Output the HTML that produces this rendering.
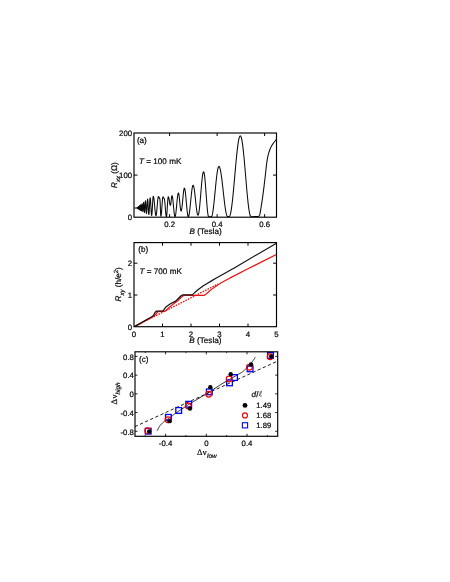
<!DOCTYPE html>
<html><head><meta charset="utf-8"><title>Figure</title>
<style>html,body{margin:0;padding:0;background:#fff;}body{width:450px;height:582px;overflow:hidden;font-family:"Liberation Sans",sans-serif;}svg{display:block;text-rendering:geometricPrecision;}</style>
</head><body>
<svg width="450" height="582" viewBox="0 0 450 582" font-family="Liberation Sans, sans-serif" fill="#0a0a0a">
<style>text{stroke:#0a0a0a;stroke-width:0.22px;}</style>
<rect width="450" height="582" fill="#fff"/>
<clipPath id="ca"><rect x="134" y="133" width="142.5" height="84.2"/></clipPath>
<path d="M136.6 208 L141 204.6 L141 210.9Z" fill="#111" clip-path="url(#ca)"/>
<path d="M134.3 208 L136.6 208 L136.6 208 L136.62 208 L136.64 208 L136.66 207.99 L136.68 207.98 L136.7 207.97 L136.72 207.95 L136.74 207.93 L136.76 207.91 L136.78 207.89 L136.8 207.87 L136.82 207.85 L136.84 207.83 L136.86 207.82 L136.88 207.81 L136.9 207.8 L136.92 207.8 L136.94 207.81 L136.96 207.83 L136.98 207.85 L137 207.88 L137.02 207.91 L137.04 207.95 L137.06 207.99 L137.08 208.03 L137.1 208.08 L137.12 208.13 L137.14 208.17 L137.16 208.22 L137.18 208.26 L137.2 208.29 L137.22 208.32 L137.24 208.34 L137.26 208.35 L137.28 208.35 L137.3 208.34 L137.32 208.32 L137.34 208.28 L137.36 208.24 L137.38 208.19 L137.4 208.13 L137.42 208.06 L137.44 207.99 L137.46 207.91 L137.48 207.83 L137.5 207.74 L137.52 207.66 L137.54 207.58 L137.56 207.5 L137.58 207.43 L137.6 207.37 L137.62 207.32 L137.64 207.28 L137.66 207.25 L137.68 207.23 L137.7 207.23 L137.72 207.25 L137.74 207.27 L137.76 207.32 L137.78 207.37 L137.8 207.44 L137.82 207.52 L137.84 207.61 L137.86 207.71 L137.88 207.82 L137.9 207.93 L137.92 208.04 L137.94 208.16 L137.96 208.27 L137.98 208.37 L138 208.47 L138.02 208.56 L138.04 208.64 L138.06 208.7 L138.08 208.75 L138.1 208.78 L138.12 208.8 L138.14 208.8 L138.16 208.78 L138.18 208.74 L138.2 208.69 L138.22 208.62 L138.24 208.53 L138.26 208.43 L138.28 208.31 L138.3 208.19 L138.32 208.05 L138.34 207.91 L138.36 207.77 L138.38 207.62 L138.4 207.47 L138.42 207.33 L138.44 207.19 L138.46 207.06 L138.48 206.95 L138.5 206.84 L138.52 206.75 L138.54 206.68 L138.56 206.63 L138.58 206.59 L138.6 206.58 L138.62 206.59 L138.64 206.61 L138.66 206.66 L138.68 206.73 L138.7 206.82 L138.72 206.92 L138.74 207.04 L138.76 207.18 L138.78 207.32 L138.8 207.48 L138.82 207.65 L138.84 207.82 L138.86 208 L138.88 208.17 L138.9 208.34 L138.92 208.51 L138.94 208.67 L138.96 208.82 L138.98 208.95 L139 209.07 L139.02 209.17 L139.04 209.25 L139.06 209.31 L139.08 209.34 L139.1 209.36 L139.12 209.35 L139.14 209.31 L139.16 209.26 L139.18 209.18 L139.2 209.07 L139.22 208.95 L139.24 208.81 L139.26 208.65 L139.28 208.48 L139.3 208.29 L139.32 208.09 L139.34 207.88 L139.36 207.67 L139.38 207.46 L139.4 207.25 L139.42 207.04 L139.44 206.84 L139.46 206.65 L139.48 206.47 L139.5 206.31 L139.52 206.16 L139.54 206.03 L139.56 205.93 L139.58 205.84 L139.6 205.79 L139.62 205.75 L139.64 205.74 L139.66 205.76 L139.68 205.81 L139.7 205.87 L139.72 205.97 L139.74 206.09 L139.76 206.23 L139.78 206.39 L139.8 206.57 L139.82 206.76 L139.84 206.97 L139.86 207.2 L139.88 207.43 L139.9 207.66 L139.92 207.9 L139.94 208.14 L139.96 208.38 L139.98 208.61 L140 208.84 L140.02 209.05 L140.04 209.24 L140.06 209.42 L140.08 209.58 L140.1 209.72 L140.12 209.84 L140.14 209.93 L140.16 210 L140.18 210.04 L140.2 210.05 L140.22 210.04 L140.24 210 L140.26 209.93 L140.28 209.83 L140.3 209.71 L140.32 209.57 L140.34 209.4 L140.36 209.21 L140.38 209 L140.4 208.77 L140.42 208.53 L140.44 208.28 L140.46 208.01 L140.48 207.75 L140.5 207.47 L140.52 207.2 L140.54 206.93 L140.56 206.66 L140.58 206.41 L140.6 206.16 L140.62 205.93 L140.64 205.71 L140.66 205.51 L140.68 205.33 L140.7 205.18 L140.72 205.05 L140.74 204.94 L140.76 204.86 L140.78 204.81 L140.8 204.78 L140.82 204.79 L140.84 204.82 L140.86 204.89 L140.88 204.97 L140.9 205.09 L140.92 205.23 L140.94 205.4 L140.96 205.59 L140.98 205.8 L141 206.03 L141.02 206.28 L141.04 206.54 L141.06 206.82 L141.08 207.1 L141.1 207.39 L141.12 207.69 L141.14 207.98 L141.16 208.28 L141.18 208.57 L141.2 208.85 L141.22 209.12 L141.24 209.38 L141.26 209.63 L141.28 209.86 L141.3 210.07 L141.32 210.25 L141.34 210.42 L141.36 210.56 L141.38 210.67 L141.4 210.76 L141.42 210.82 L141.44 210.84 L141.46 210.84 L141.48 210.82 L141.5 210.76 L141.52 210.67 L141.54 210.56 L141.56 210.42 L141.58 210.25 L141.6 210.06 L141.62 209.84 L141.64 209.61 L141.66 209.35 L141.68 209.08 L141.7 208.79 L141.72 208.49 L141.74 208.19 L141.76 207.87 L141.78 207.55 L141.8 207.22 L141.82 206.9 L141.84 206.58 L141.86 206.27 L141.88 205.96 L141.9 205.66 L141.92 205.38 L141.94 205.11 L141.96 204.87 L141.98 204.64 L142 204.43 L142.02 204.24 L142.04 204.08 L142.06 203.95 L142.08 203.84 L142.1 203.76 L142.12 203.71 L142.14 203.68 L142.16 203.69 L142.18 203.72 L142.2 203.79 L142.22 203.88 L142.24 204 L142.26 204.15 L142.28 204.32 L142.3 204.52 L142.32 204.74 L142.34 204.98 L142.36 205.24 L142.38 205.52 L142.4 205.81 L142.42 206.12 L142.44 206.43 L142.46 206.76 L142.48 207.09 L142.5 207.43 L142.52 207.77 L142.54 208.1 L142.56 208.44 L142.58 208.77 L142.6 209.09 L142.62 209.4 L142.64 209.69 L142.66 209.98 L142.68 210.24 L142.7 210.49 L142.72 210.72 L142.74 210.92 L142.76 211.11 L142.78 211.26 L142.8 211.39 L142.82 211.5 L142.84 211.58 L142.86 211.63 L142.88 211.65 L142.9 211.64 L142.92 211.61 L142.94 211.54 L142.96 211.45 L142.98 211.33 L143 211.19 L143.02 211.01 L143.04 210.82 L143.06 210.6 L143.08 210.36 L143.1 210.09 L143.12 209.81 L143.14 209.52 L143.16 209.2 L143.18 208.88 L143.2 208.54 L143.22 208.19 L143.24 207.84 L143.26 207.48 L143.28 207.12 L143.3 206.76 L143.32 206.4 L143.34 206.04 L143.36 205.69 L143.38 205.35 L143.4 205.02 L143.42 204.7 L143.44 204.39 L143.46 204.1 L143.48 203.83 L143.5 203.58 L143.52 203.35 L143.54 203.14 L143.56 202.95 L143.58 202.79 L143.6 202.65 L143.62 202.54 L143.64 202.46 L143.66 202.4 L143.68 202.37 L143.7 202.37 L143.72 202.4 L143.74 202.45 L143.76 202.53 L143.78 202.64 L143.8 202.77 L143.82 202.93 L143.84 203.11 L143.86 203.32 L143.88 203.55 L143.9 203.8 L143.92 204.06 L143.94 204.35 L143.96 204.65 L143.98 204.97 L144 205.3 L144.02 205.64 L144.04 206 L144.06 206.35 L144.08 206.72 L144.1 207.09 L144.12 207.46 L144.14 207.83 L144.16 208.19 L144.18 208.55 L144.2 208.91 L144.22 209.26 L144.24 209.6 L144.26 209.92 L144.28 210.24 L144.3 210.54 L144.32 210.82 L144.34 211.08 L144.36 211.33 L144.38 211.55 L144.4 211.75 L144.42 211.93 L144.44 212.09 L144.46 212.22 L144.48 212.33 L144.5 212.41 L144.52 212.46 L144.54 212.49 L144.56 212.5 L144.58 212.47 L144.6 212.42 L144.62 212.34 L144.64 212.24 L144.66 212.11 L144.68 211.96 L144.7 211.79 L144.72 211.59 L144.74 211.37 L144.76 211.12 L144.78 210.86 L144.8 210.58 L144.82 210.28 L144.84 209.97 L144.86 209.64 L144.88 209.29 L144.9 208.94 L144.92 208.57 L144.94 208.2 L144.96 207.82 L144.98 207.44 L145 207.05 L145.02 206.66 L145.04 206.27 L145.06 205.89 L145.08 205.51 L145.1 205.13 L145.12 204.76 L145.14 204.4 L145.16 204.05 L145.18 203.71 L145.2 203.38 L145.22 203.07 L145.24 202.77 L145.26 202.5 L145.28 202.24 L145.3 202 L145.32 201.78 L145.34 201.58 L145.36 201.4 L145.38 201.25 L145.4 201.12 L145.42 201.01 L145.44 200.93 L145.46 200.88 L145.48 200.85 L145.5 200.84 L145.52 200.86 L145.54 200.9 L145.56 200.97 L145.58 201.06 L145.6 201.18 L145.62 201.32 L145.64 201.49 L145.66 201.67 L145.68 201.88 L145.7 202.11 L145.72 202.36 L145.74 202.62 L145.76 202.91 L145.78 203.21 L145.8 203.52 L145.82 203.85 L145.84 204.19 L145.86 204.55 L145.88 204.91 L145.9 205.28 L145.92 205.66 L145.94 206.05 L145.96 206.43 L145.98 206.83 L146 207.22 L146.02 207.61 L146.04 208 L146.06 208.38 L146.08 208.77 L146.1 209.14 L146.12 209.51 L146.14 209.87 L146.16 210.21 L146.18 210.55 L146.2 210.87 L146.22 211.18 L146.24 211.47 L146.26 211.75 L146.28 212.01 L146.3 212.25 L146.32 212.47 L146.34 212.67 L146.36 212.85 L146.38 213.01 L146.4 213.15 L146.42 213.26 L146.44 213.36 L146.46 213.42 L146.48 213.47 L146.5 213.49 L146.52 213.49 L146.54 213.47 L146.56 213.42 L146.58 213.35 L146.6 213.25 L146.62 213.13 L146.64 212.99 L146.66 212.83 L146.68 212.65 L146.7 212.44 L146.72 212.22 L146.74 211.98 L146.76 211.72 L146.78 211.44 L146.8 211.14 L146.82 210.83 L146.84 210.51 L146.86 210.17 L146.88 209.82 L146.9 209.46 L146.92 209.09 L146.94 208.7 L146.96 208.32 L146.98 207.92 L147 207.52 L147.02 207.12 L147.04 206.71 L147.06 206.31 L147.08 205.9 L147.1 205.5 L147.12 205.09 L147.14 204.7 L147.16 204.3 L147.18 203.92 L147.2 203.54 L147.22 203.17 L147.24 202.81 L147.26 202.46 L147.28 202.12 L147.3 201.8 L147.32 201.49 L147.34 201.2 L147.36 200.93 L147.38 200.68 L147.4 200.44 L147.42 200.22 L147.44 200.02 L147.46 199.84 L147.48 199.68 L147.5 199.54 L147.52 199.42 L147.54 199.32 L147.56 199.24 L147.58 199.19 L147.6 199.15 L147.62 199.14 L147.64 199.15 L147.66 199.18 L147.68 199.24 L147.7 199.31 L147.72 199.41 L147.74 199.52 L147.76 199.66 L147.78 199.82 L147.8 199.99 L147.82 200.19 L147.84 200.4 L147.86 200.63 L147.88 200.88 L147.9 201.14 L147.92 201.42 L147.94 201.71 L147.96 202.02 L147.98 202.34 L148 202.67 L148.02 203.01 L148.04 203.36 L148.06 203.72 L148.08 204.09 L148.1 204.47 L148.12 204.85 L148.14 205.24 L148.16 205.63 L148.18 206.02 L148.2 206.41 L148.22 206.81 L148.24 207.2 L148.26 207.6 L148.28 207.99 L148.3 208.38 L148.32 208.76 L148.34 209.14 L148.36 209.51 L148.38 209.87 L148.4 210.22 L148.42 210.57 L148.44 210.9 L148.46 211.23 L148.48 211.54 L148.5 211.84 L148.52 212.12 L148.54 212.4 L148.56 212.65 L148.58 212.89 L148.6 213.12 L148.62 213.33 L148.64 213.52 L148.66 213.7 L148.68 213.85 L148.7 213.99 L148.72 214.11 L148.74 214.21 L148.76 214.3 L148.78 214.36 L148.8 214.41 L148.82 214.43 L148.84 214.44 L148.86 214.42 L148.88 214.39 L148.9 214.34 L148.92 214.27 L148.94 214.18 L148.96 214.07 L148.98 213.94 L149 213.8 L149.02 213.64 L149.04 213.46 L149.06 213.27 L149.08 213.05 L149.1 212.83 L149.12 212.59 L149.14 212.33 L149.16 212.06 L149.18 211.78 L149.2 211.48 L149.22 211.18 L149.24 210.86 L149.26 210.53 L149.28 210.19 L149.3 209.85 L149.32 209.49 L149.34 209.13 L149.36 208.76 L149.38 208.39 L149.4 208.01 L149.42 207.63 L149.44 207.25 L149.46 206.86 L149.48 206.47 L149.5 206.08 L149.52 205.7 L149.54 205.31 L149.56 204.93 L149.58 204.55 L149.6 204.17 L149.62 203.8 L149.64 203.43 L149.66 203.07 L149.68 202.72 L149.7 202.37 L149.72 202.03 L149.74 201.71 L149.76 201.39 L149.78 201.08 L149.8 200.78 L149.82 200.5 L149.84 200.23 L149.86 199.97 L149.88 199.72 L149.9 199.49 L149.92 199.27 L149.94 199.06 L149.96 198.87 L149.98 198.7 L150 198.54 L150.02 198.4 L150.04 198.28 L150.06 198.17 L150.08 198.07 L150.1 198 L150.12 197.94 L150.14 197.9 L150.16 197.87 L150.18 197.86 L150.2 197.87 L150.22 197.9 L150.24 197.94 L150.26 198 L150.28 198.08 L150.3 198.17 L150.32 198.28 L150.34 198.4 L150.36 198.54 L150.38 198.7 L150.4 198.87 L150.42 199.05 L150.44 199.25 L150.46 199.46 L150.48 199.69 L150.5 199.93 L150.52 200.18 L150.54 200.44 L150.56 200.72 L150.58 201.01 L150.6 201.3 L150.62 201.61 L150.64 201.92 L150.66 202.24 L150.68 202.57 L150.7 202.91 L150.72 203.26 L150.74 203.61 L150.76 203.96 L150.78 204.32 L150.8 204.69 L150.82 205.06 L150.84 205.43 L150.86 205.8 L150.88 206.17 L150.9 206.54 L150.92 206.92 L150.94 207.29 L150.96 207.66 L150.98 208.03 L151 208.39 L151.02 208.76 L151.04 209.12 L151.06 209.47 L151.08 209.82 L151.1 210.16 L151.12 210.49 L151.14 210.82 L151.16 211.14 L151.18 211.46 L151.2 211.76 L151.22 212.05 L151.24 212.34 L151.26 212.61 L151.28 212.88 L151.3 213.13 L151.32 213.37 L151.34 213.6 L151.36 213.82 L151.38 214.02 L151.4 214.21 L151.42 214.39 L151.44 214.56 L151.46 214.71 L151.48 214.84 L151.5 214.97 L151.52 215.08 L151.54 215.17 L151.56 215.25 L151.58 215.31 L151.6 215.36 L151.62 215.4 L151.64 215.42 L151.66 215.42 L151.68 215.41 L151.7 215.39 L151.72 215.35 L151.74 215.3 L151.76 215.23 L151.78 215.14 L151.8 215.05 L151.82 214.94 L151.84 214.81 L151.86 214.67 L151.88 214.52 L151.9 214.36 L151.92 214.18 L151.94 213.99 L151.96 213.78 L151.98 213.57 L152 213.34 L152.02 213.11 L152.04 212.86 L152.06 212.6 L152.08 212.33 L152.1 212.05 L152.12 211.77 L152.14 211.47 L152.16 211.17 L152.18 210.86 L152.2 210.54 L152.22 210.22 L152.24 209.88 L152.26 209.55 L152.28 209.21 L152.3 208.86 L152.32 208.51 L152.34 208.16 L152.36 207.8 L152.38 207.44 L152.4 207.08 L152.42 206.71 L152.44 206.35 L152.46 205.99 L152.48 205.62 L152.5 205.26 L152.52 204.9 L152.54 204.54 L152.56 204.18 L152.58 203.82 L152.6 203.47 L152.62 203.12 L152.64 202.78 L152.66 202.44 L152.68 202.1 L152.7 201.77 L152.72 201.45 L152.74 201.14 L152.76 200.83 L152.78 200.52 L152.8 200.23 L152.82 199.94 L152.84 199.67 L152.86 199.4 L152.88 199.14 L152.9 198.89 L152.92 198.65 L152.94 198.42 L152.96 198.2 L152.98 198 L153 197.8 L153.02 197.61 L153.04 197.44 L153.06 197.28 L153.08 197.13 L153.1 196.99 L153.12 196.86 L153.14 196.75 L153.16 196.65 L153.18 196.56 L153.2 196.49 L153.22 196.42 L153.24 196.37 L153.26 196.34 L153.28 196.31 L153.3 196.3 L153.41 196.38 L153.53 196.63 L153.64 197.04 L153.75 197.59 L153.86 198.3 L153.98 199.13 L154.09 200.08 L154.2 201.13 L154.31 202.26 L154.43 203.45 L154.54 204.69 L154.65 205.95 L154.76 207.21 L154.88 208.45 L154.99 209.64 L155.1 210.78 L155.21 211.82 L155.33 212.77 L155.44 213.61 L155.55 214.31 L155.66 214.87 L155.78 215.27 L155.89 215.52 L156 215.6 L156.1 215.52 L156.2 215.28 L156.3 214.88 L156.4 214.33 L156.5 213.64 L156.6 212.82 L156.7 211.88 L156.8 210.85 L156.9 209.74 L157 208.56 L157.1 207.34 L157.2 206.1 L157.3 204.86 L157.4 203.64 L157.5 202.46 L157.6 201.35 L157.7 200.32 L157.8 199.38 L157.9 198.56 L158 197.87 L158.1 197.32 L158.2 196.92 L158.3 196.68 L158.4 196.6 L158.46 196.61 L158.52 196.63 L158.58 196.68 L158.63 196.73 L158.69 196.81 L158.75 196.89 L158.81 196.99 L158.87 197.1 L158.93 197.22 L158.98 197.34 L159.04 197.47 L159.1 197.6 L159.16 197.73 L159.22 197.86 L159.28 197.98 L159.33 198.1 L159.39 198.21 L159.45 198.31 L159.51 198.39 L159.57 198.47 L159.62 198.52 L159.68 198.57 L159.74 198.59 L159.8 198.6 L159.85 198.68 L159.89 198.9 L159.94 199.27 L159.98 199.78 L160.03 200.42 L160.08 201.18 L160.12 202.04 L160.17 203 L160.21 204.03 L160.26 205.12 L160.3 206.25 L160.35 207.4 L160.4 208.55 L160.44 209.68 L160.49 210.77 L160.53 211.8 L160.58 212.76 L160.62 213.62 L160.67 214.38 L160.72 215.02 L160.76 215.53 L160.81 215.9 L160.85 216.12 L160.9 216.2 L160.99 216.12 L161.08 215.87 L161.16 215.46 L161.25 214.9 L161.34 214.2 L161.43 213.36 L161.51 212.4 L161.6 211.35 L161.69 210.21 L161.78 209.01 L161.86 207.77 L161.95 206.5 L162.04 205.23 L162.12 203.99 L162.21 202.79 L162.3 201.65 L162.39 200.6 L162.47 199.64 L162.56 198.8 L162.65 198.1 L162.74 197.54 L162.82 197.13 L162.91 196.88 L163 196.8 L163.05 196.81 L163.1 196.83 L163.15 196.87 L163.2 196.92 L163.25 196.99 L163.3 197.06 L163.35 197.15 L163.4 197.25 L163.45 197.36 L163.5 197.47 L163.55 197.58 L163.6 197.7 L163.65 197.82 L163.7 197.93 L163.75 198.04 L163.8 198.15 L163.85 198.25 L163.9 198.34 L163.95 198.41 L164 198.48 L164.05 198.53 L164.1 198.57 L164.15 198.59 L164.2 198.6 L164.29 198.68 L164.38 198.91 L164.47 199.29 L164.57 199.81 L164.66 200.47 L164.75 201.25 L164.84 202.14 L164.93 203.12 L165.03 204.19 L165.12 205.31 L165.21 206.47 L165.3 207.65 L165.39 208.83 L165.48 209.99 L165.57 211.11 L165.67 212.17 L165.76 213.16 L165.85 214.05 L165.94 214.83 L166.03 215.49 L166.12 216.01 L166.22 216.39 L166.31 216.62 L166.4 216.7 L166.48 216.61 L166.56 216.36 L166.64 215.94 L166.72 215.36 L166.8 214.63 L166.88 213.77 L166.95 212.79 L167.03 211.7 L167.11 210.53 L167.19 209.29 L167.27 208.01 L167.35 206.7 L167.43 205.39 L167.51 204.11 L167.59 202.87 L167.67 201.7 L167.75 200.61 L167.83 199.63 L167.9 198.77 L167.98 198.04 L168.06 197.46 L168.14 197.04 L168.22 196.79 L168.3 196.7 L168.39 196.74 L168.48 196.85 L168.56 197.03 L168.65 197.28 L168.74 197.59 L168.83 197.96 L168.91 198.38 L169 198.85 L169.09 199.35 L169.18 199.89 L169.26 200.44 L169.35 201 L169.44 201.56 L169.53 202.11 L169.61 202.65 L169.7 203.15 L169.79 203.62 L169.88 204.04 L169.96 204.41 L170.05 204.72 L170.14 204.97 L170.22 205.15 L170.31 205.26 L170.4 205.3 L170.47 205.26 L170.53 205.14 L170.6 204.93 L170.67 204.66 L170.73 204.31 L170.8 203.89 L170.87 203.42 L170.93 202.9 L171 202.34 L171.07 201.74 L171.13 201.13 L171.2 200.5 L171.27 199.87 L171.33 199.26 L171.4 198.66 L171.47 198.1 L171.53 197.58 L171.6 197.11 L171.67 196.69 L171.73 196.34 L171.8 196.07 L171.87 195.86 L171.93 195.74 L172 195.7 L172.12 195.79 L172.25 196.06 L172.38 196.5 L172.5 197.11 L172.62 197.87 L172.75 198.78 L172.88 199.81 L173 200.95 L173.12 202.18 L173.25 203.48 L173.38 204.83 L173.5 206.2 L173.62 207.57 L173.75 208.92 L173.88 210.22 L174 211.45 L174.12 212.59 L174.25 213.62 L174.38 214.53 L174.5 215.29 L174.62 215.9 L174.75 216.34 L174.88 216.61 L175 216.7 L175.14 216.6 L175.28 216.3 L175.43 215.8 L175.57 215.11 L175.71 214.25 L175.85 213.23 L175.99 212.06 L176.13 210.78 L176.28 209.38 L176.42 207.92 L176.56 206.4 L176.7 204.85 L176.84 203.3 L176.98 201.78 L177.12 200.32 L177.27 198.93 L177.41 197.64 L177.55 196.47 L177.69 195.45 L177.83 194.59 L177.97 193.9 L178.12 193.4 L178.26 193.1 L178.4 193 L178.51 193.08 L178.62 193.31 L178.74 193.69 L178.85 194.21 L178.96 194.86 L179.07 195.64 L179.19 196.52 L179.3 197.5 L179.41 198.56 L179.53 199.67 L179.64 200.83 L179.75 202 L179.86 203.17 L179.97 204.33 L180.09 205.44 L180.2 206.5 L180.31 207.48 L180.43 208.36 L180.54 209.14 L180.65 209.79 L180.76 210.31 L180.88 210.69 L180.99 210.92 L181.1 211 L181.24 210.9 L181.38 210.61 L181.51 210.13 L181.65 209.47 L181.79 208.64 L181.93 207.66 L182.06 206.54 L182.2 205.3 L182.34 203.96 L182.47 202.55 L182.61 201.09 L182.75 199.6 L182.89 198.11 L183.03 196.65 L183.16 195.24 L183.3 193.9 L183.44 192.66 L183.57 191.54 L183.71 190.56 L183.85 189.73 L183.99 189.07 L184.12 188.59 L184.26 188.3 L184.4 188.2 L184.56 188.32 L184.72 188.69 L184.89 189.28 L185.05 190.11 L185.21 191.14 L185.38 192.37 L185.54 193.78 L185.7 195.32 L185.86 197 L186.03 198.76 L186.19 200.59 L186.35 202.45 L186.51 204.31 L186.68 206.14 L186.84 207.9 L187 209.57 L187.16 211.12 L187.33 212.53 L187.49 213.76 L187.65 214.79 L187.81 215.62 L187.98 216.21 L188.14 216.58 L188.3 216.7 L188.5 216.57 L188.7 216.17 L188.9 215.5 L189.1 214.6 L189.3 213.46 L189.5 212.1 L189.7 210.56 L189.9 208.85 L190.1 207.01 L190.3 205.06 L190.5 203.05 L190.7 201 L190.9 198.95 L191.1 196.94 L191.3 194.99 L191.5 193.15 L191.7 191.44 L191.9 189.9 L192.1 188.54 L192.3 187.4 L192.5 186.5 L192.7 185.83 L192.9 185.43 L193.1 185.3 L193.3 185.43 L193.51 185.81 L193.71 186.44 L193.92 187.3 L194.12 188.39 L194.32 189.68 L194.53 191.15 L194.73 192.78 L194.94 194.53 L195.14 196.38 L195.35 198.3 L195.55 200.25 L195.75 202.2 L195.96 204.12 L196.16 205.97 L196.37 207.72 L196.57 209.35 L196.78 210.82 L196.98 212.11 L197.18 213.2 L197.39 214.06 L197.59 214.69 L197.8 215.07 L198 215.2 L198.23 215.01 L198.47 214.46 L198.7 213.55 L198.93 212.29 L199.17 210.72 L199.4 208.84 L199.63 206.71 L199.87 204.35 L200.1 201.8 L200.33 199.12 L200.57 196.33 L200.8 193.5 L201.03 190.67 L201.27 187.88 L201.5 185.2 L201.73 182.65 L201.97 180.29 L202.2 178.16 L202.43 176.28 L202.67 174.71 L202.9 173.45 L203.13 172.54 L203.37 171.99 L203.6 171.8 L203.81 171.99 L204.03 172.57 L204.24 173.51 L204.45 174.81 L204.66 176.45 L204.88 178.39 L205.09 180.6 L205.3 183.05 L205.51 185.69 L205.72 188.48 L205.94 191.36 L206.15 194.3 L206.36 197.24 L206.57 200.12 L206.79 202.91 L207 205.55 L207.21 208 L207.42 210.21 L207.64 212.15 L207.85 213.79 L208.06 215.09 L208.27 216.03 L208.49 216.61 L208.7 216.8 L208.81 216.8 L208.92 216.8 L209.02 216.8 L209.13 216.8 L209.24 216.8 L209.35 216.8 L209.46 216.8 L209.57 216.8 L209.68 216.8 L209.78 216.8 L209.89 216.8 L210 216.8 L210.11 216.8 L210.22 216.8 L210.32 216.8 L210.43 216.8 L210.54 216.8 L210.65 216.8 L210.76 216.8 L210.87 216.8 L210.98 216.8 L211.08 216.8 L211.19 216.8 L211.3 216.8 L211.62 216.58 L211.93 215.94 L212.25 214.88 L212.57 213.42 L212.88 211.59 L213.2 209.42 L213.52 206.94 L213.83 204.2 L214.15 201.24 L214.47 198.12 L214.78 194.89 L215.1 191.6 L215.42 188.31 L215.73 185.08 L216.05 181.96 L216.37 179 L216.68 176.26 L217 173.78 L217.32 171.61 L217.63 169.78 L217.95 168.32 L218.27 167.26 L218.58 166.62 L218.9 166.4 L219.26 166.61 L219.62 167.25 L219.99 168.31 L220.35 169.76 L220.71 171.58 L221.07 173.74 L221.44 176.2 L221.8 178.93 L222.16 181.86 L222.53 184.97 L222.89 188.18 L223.25 191.45 L223.61 194.72 L223.97 197.93 L224.34 201.04 L224.7 203.97 L225.06 206.7 L225.43 209.16 L225.79 211.32 L226.15 213.14 L226.51 214.59 L226.88 215.65 L227.24 216.29 L227.6 216.5 L227.67 216.5 L227.73 216.5 L227.8 216.5 L227.87 216.5 L227.93 216.5 L228 216.5 L228.07 216.5 L228.13 216.5 L228.2 216.5 L228.27 216.5 L228.33 216.5 L228.4 216.5 L228.47 216.5 L228.53 216.5 L228.6 216.5 L228.67 216.5 L228.73 216.5 L228.8 216.5 L228.87 216.5 L228.93 216.5 L229 216.5 L229.07 216.5 L229.13 216.5 L229.2 216.5 L229.66 216.15 L230.12 215.13 L230.59 213.43 L231.05 211.09 L231.51 208.16 L231.97 204.68 L232.44 200.71 L232.9 196.33 L233.36 191.59 L233.82 186.59 L234.29 181.42 L234.75 176.15 L235.21 170.88 L235.68 165.71 L236.14 160.71 L236.6 155.98 L237.06 151.59 L237.53 147.62 L237.99 144.14 L238.45 141.21 L238.91 138.87 L239.38 137.17 L239.84 136.15 L240.3 135.8 L240.75 136.15 L241.19 137.18 L241.64 138.88 L242.08 141.22 L242.53 144.16 L242.98 147.65 L243.42 151.63 L243.87 156.03 L244.31 160.77 L244.76 165.78 L245.2 170.97 L245.65 176.25 L246.1 181.53 L246.54 186.72 L246.99 191.73 L247.43 196.47 L247.88 200.87 L248.32 204.85 L248.77 208.34 L249.22 211.28 L249.66 213.62 L250.11 215.32 L250.55 216.35 L251 216.7 L251.3 216.7 L251.61 216.7 L251.91 216.69 L252.22 216.69 L252.52 216.68 L252.82 216.67 L253.13 216.66 L253.43 216.65 L253.74 216.64 L254.04 216.63 L254.35 216.61 L254.65 216.6 L254.95 216.59 L255.26 216.57 L255.56 216.56 L255.87 216.55 L256.17 216.54 L256.48 216.53 L256.78 216.52 L257.08 216.51 L257.39 216.51 L257.69 216.5 L258 216.5 L258.3 216.5 L258.37 216.46 L258.45 216.42 L258.56 216.38 L258.67 216.33 L258.79 216.27 L258.92 216.2 L259.05 216.1 L259.18 215.97 L259.29 215.8 L259.4 215.6 L259.49 215.41 L259.57 215.25 L259.63 215.11 L259.7 214.95 L259.76 214.75 L259.83 214.47 L259.92 214.08 L260.02 213.56 L260.15 212.88 L260.3 212 L260.49 210.91 L260.7 209.63 L260.94 208.19 L261.19 206.62 L261.46 204.94 L261.73 203.18 L262.01 201.37 L262.28 199.53 L262.55 197.7 L262.8 195.9 L263.05 194.07 L263.3 192.14 L263.55 190.15 L263.81 188.12 L264.06 186.07 L264.3 184.03 L264.54 182.03 L264.77 180.09 L264.99 178.24 L265.2 176.5 L265.39 174.86 L265.57 173.26 L265.74 171.72 L265.9 170.24 L266.05 168.81 L266.2 167.43 L266.35 166.11 L266.49 164.85 L266.64 163.64 L266.8 162.5 L266.96 161.43 L267.11 160.45 L267.25 159.54 L267.4 158.7 L267.55 157.9 L267.7 157.14 L267.86 156.4 L268.03 155.67 L268.21 154.94 L268.4 154.2 L268.61 153.45 L268.83 152.7 L269.06 151.96 L269.3 151.24 L269.54 150.54 L269.79 149.85 L270.05 149.19 L270.3 148.56 L270.55 147.96 L270.8 147.4 L271.05 146.88 L271.3 146.39 L271.55 145.94 L271.8 145.52 L272.05 145.12 L272.3 144.75 L272.55 144.38 L272.8 144.02 L273.05 143.66 L273.3 143.3 L273.55 142.94 L273.8 142.6 L274.06 142.27 L274.31 141.96 L274.56 141.64 L274.81 141.34 L275.05 141.03 L275.28 140.73 L275.5 140.42 L275.7 140.1 L275.89 139.77 L276.08 139.41 L276.26 139.04 L276.44 138.67 L276.6 138.3 L276.75 137.95 L276.89 137.62 L277.01 137.34 L277.11 137.09 L277.2 136.9" fill="none" stroke="#0a0a0a" stroke-width="1.05" stroke-linejoin="round" clip-path="url(#ca)"/>
<rect x="134" y="133" width="142.5" height="84.2" fill="none" stroke="#000" stroke-width="1.15"/>
<path d="M169.62 217.2v-3 M169.62 133v3 M217.12 217.2v-3 M217.12 133v3 M264.62 217.2v-3 M264.62 133v3 M134 175.1h3.5 M276.5 175.1h-3.5 " stroke="#000" stroke-width="1.0" fill="none"/>
<clipPath id="cb"><rect x="134" y="241.6" width="143.5" height="85.1"/></clipPath>
<g clip-path="url(#cb)" fill="none" stroke-linejoin="round">
<path d="M134 326.8L218.07 284.02" stroke="#f01010" stroke-width="1.25" stroke-dasharray="1.6 1.15"/>
<path d="M134 327.18 L153.38 316.31 L155.09 315.03 L156.8 312.81 L158.22 311.54 L159.65 311.38 L165.01 311.38 L166.49 309.95 L168.6 307.85 L172.99 304.22 L177.49 301.11 L181 297.51 L183.7 295.48 L185.3 295.32 L204.4 295.32 L205.82 294.36 L207.5 292.77 L211.89 289.12 L216.39 285.94 L220.81 283.07 L225.31 280.59 L229.7 278.15 L248 268.76 L276.5 254.46" stroke="#e81010" stroke-width="1.2"/>
<path d="M134 326.8 L152.24 316.47 L153.38 315.35 L154.52 313.44 L155.66 311.69 L156.51 311.06 L162.78 311 L164.21 309.31 L165.89 306.93 L170.39 303.84 L175.7 301.11 L179.29 297.51 L181.31 295.48 L183.02 294.9 L192.11 294.9 L193.42 293.89 L194.99 292.3 L198.61 289.28 L203 286.1 L207.5 283.23 L211.89 280.63 L216.39 278.08 L220.81 275.6 L225.31 273.06 L229.7 270.51 L234.69 267.65 L276.5 243.17" stroke="#111" stroke-width="1.2"/>
</g>
<rect x="134" y="242.6" width="142.5" height="84.1" fill="none" stroke="#000" stroke-width="1.15"/>
<path d="M162.5 326.7v-3.1 M162.5 242.6v3.1 M191 326.7v-3.1 M191 242.6v3.1 M219.5 326.7v-3.1 M219.5 242.6v3.1 M248 326.7v-3.1 M248 242.6v3.1 M134 295h3.4 M276.5 295h-3.4 M134 263.2h3.4 M276.5 263.2h-3.4 " stroke="#000" stroke-width="1.0" fill="none"/>
<clipPath id="cc"><rect x="135" y="351.8" width="142.7" height="84.5"/></clipPath>
<path d="M134.9 426.67L279.7 360.11" stroke="#111" stroke-width="0.95" stroke-dasharray="3.2 2.43" fill="none" clip-path="url(#cc)"/>
<path d="M157.2 430.79 L157.33 430.51 L157.48 430.18 L157.65 429.81 L157.83 429.42 L158.02 429.03 L158.21 428.65 L158.4 428.3 L158.58 427.97 L158.77 427.63 L158.96 427.3 L159.16 426.97 L159.36 426.64 L159.56 426.32 L159.78 426.01 L160 425.7 L160.23 425.4 L160.47 425.11 L160.72 424.83 L160.97 424.55 L161.23 424.28 L161.49 424.01 L161.75 423.75 L162 423.5 L162.24 423.26 L162.46 423.04 L162.68 422.83 L162.91 422.62 L163.14 422.41 L163.39 422.19 L163.68 421.96 L164 421.7 L164.36 421.43 L164.75 421.14 L165.16 420.84 L165.59 420.54 L166.05 420.22 L166.52 419.89 L167 419.55 L167.5 419.2 L168.02 418.83 L168.58 418.43 L169.17 418.02 L169.76 417.6 L170.36 417.18 L170.94 416.77 L171.49 416.37 L172 416 L172.43 415.68 L172.78 415.41 L173.09 415.16 L173.39 414.92 L173.72 414.66 L174.12 414.35 L174.64 413.97 L175.3 413.5 L176.15 412.91 L177.16 412.22 L178.29 411.45 L179.48 410.64 L180.7 409.82 L181.89 409.01 L183 408.27 L184 407.6 L184.85 407.03 L185.6 406.54 L186.27 406.09 L186.92 405.66 L187.58 405.24 L188.28 404.78 L189.08 404.28 L190 403.7 L191.09 403.02 L192.34 402.25 L193.68 401.43 L195.06 400.59 L196.44 399.75 L197.76 398.95 L198.96 398.22 L200 397.6 L200.84 397.1 L201.51 396.72 L202.07 396.4 L202.57 396.12 L203.06 395.85 L203.59 395.55 L204.22 395.17 L205 394.7 L205.93 394.12 L206.95 393.47 L208.05 392.77 L209.21 392.02 L210.39 391.26 L211.58 390.49 L212.76 389.73 L213.9 389 L215.01 388.28 L216.12 387.56 L217.24 386.84 L218.35 386.11 L219.46 385.39 L220.58 384.68 L221.69 383.98 L222.8 383.3 L223.91 382.63 L225.03 381.99 L226.14 381.35 L227.25 380.72 L228.36 380.09 L229.47 379.47 L230.59 378.84 L231.7 378.2 L232.85 377.53 L234.07 376.83 L235.3 376.12 L236.52 375.41 L237.7 374.72 L238.8 374.08 L239.77 373.5 L240.6 373 L241.25 372.61 L241.74 372.3 L242.1 372.07 L242.39 371.88 L242.64 371.7 L242.88 371.51 L243.15 371.29 L243.5 371 L243.91 370.65 L244.34 370.27 L244.78 369.86 L245.23 369.44 L245.68 369.01 L246.11 368.59 L246.52 368.18 L246.9 367.8 L247.25 367.44 L247.58 367.1 L247.89 366.77 L248.19 366.45 L248.47 366.13 L248.75 365.82 L249.03 365.51 L249.3 365.2 L249.57 364.89 L249.82 364.6 L250.07 364.3 L250.31 364.01 L250.55 363.72 L250.8 363.42 L251.04 363.12 L251.3 362.8 L251.57 362.47 L251.85 362.13 L252.13 361.77 L252.41 361.42 L252.7 361.06 L252.97 360.7 L253.24 360.35 L253.5 360 L253.76 359.64 L254.02 359.25 L254.28 358.86 L254.54 358.48 L254.77 358.11 L254.99 357.78 L255.16 357.51 L255.3 357.3" stroke="#000" stroke-width="0.85" fill="none"/>
<g clip-path="url(#cc)">
<rect x="145.32" y="428.27" width="5.75" height="5.75" fill="none" stroke="#0000f0" stroke-width="1.3"/>
<rect x="165.53" y="414.48" width="5.75" height="5.75" fill="none" stroke="#0000f0" stroke-width="1.3"/>
<rect x="175.82" y="407.57" width="5.75" height="5.75" fill="none" stroke="#0000f0" stroke-width="1.3"/>
<rect x="185.82" y="401.38" width="5.75" height="5.75" fill="none" stroke="#0000f0" stroke-width="1.3"/>
<rect x="206.43" y="388.98" width="5.75" height="5.75" fill="none" stroke="#0000f0" stroke-width="1.3"/>
<rect x="226.62" y="379.98" width="5.75" height="5.75" fill="none" stroke="#0000f0" stroke-width="1.3"/>
<rect x="231.62" y="374.68" width="5.75" height="5.75" fill="none" stroke="#0000f0" stroke-width="1.3"/>
<rect x="247.22" y="365.98" width="5.75" height="5.75" fill="none" stroke="#0000f0" stroke-width="1.3"/>
<rect x="267.62" y="352.57" width="5.75" height="5.75" fill="none" stroke="#0000f0" stroke-width="1.3"/>
<circle cx="147.7" cy="430.8" r="2.85" fill="none" stroke="#f40000" stroke-width="1.2"/>
<circle cx="168" cy="419.8" r="2.85" fill="none" stroke="#f40000" stroke-width="1.2"/>
<circle cx="188.3" cy="406" r="2.85" fill="none" stroke="#f40000" stroke-width="1.2"/>
<circle cx="208.7" cy="394.2" r="2.85" fill="none" stroke="#f40000" stroke-width="1.2"/>
<circle cx="229.1" cy="379" r="2.85" fill="none" stroke="#f40000" stroke-width="1.2"/>
<circle cx="249.4" cy="367.2" r="2.85" fill="none" stroke="#f40000" stroke-width="1.2"/>
<circle cx="270.1" cy="356.8" r="2.85" fill="none" stroke="#f40000" stroke-width="1.2"/>
<circle cx="149.1" cy="431.45" r="2.2" fill="#000"/>
<circle cx="169.6" cy="421.15" r="2.2" fill="#000"/>
<circle cx="190" cy="408.55" r="2.2" fill="#000"/>
<circle cx="210.3" cy="387.15" r="2.2" fill="#000"/>
<circle cx="230.7" cy="374.15" r="2.2" fill="#000"/>
<circle cx="251" cy="364.45" r="2.2" fill="#000"/>
<circle cx="271.3" cy="356.45" r="2.2" fill="#000"/>
</g>
<rect x="135" y="351.8" width="142.7" height="84.5" fill="none" stroke="#000" stroke-width="1.15"/>
<path d="M165.58 436.3v-2.5 M165.58 351.8v2.5 M206.3 436.3v-2.5 M206.3 351.8v2.5 M247.02 436.3v-2.5 M247.02 351.8v2.5 M135 431.29h2.5 M277.7 431.29h-2.5 M135 412.57h2.5 M277.7 412.57h-2.5 M135 393.85h2.5 M277.7 393.85h-2.5 M135 375.13h2.5 M277.7 375.13h-2.5 M135 356.41h2.5 M277.7 356.41h-2.5 " stroke="#000" stroke-width="0.85" fill="none"/>
<path d="M145.22 436.3v-1.35 M145.22 351.8v1.35 M185.94 436.3v-1.35 M185.94 351.8v1.35 M226.66 436.3v-1.35 M226.66 351.8v1.35 M267.38 436.3v-1.35 M267.38 351.8v1.35 " stroke="#000" stroke-width="0.75" fill="none"/>
<path d="M259.1 395.5 C260.5 394.4 261.9 392 261.4 391.2 C260.9 390.5 260 392.5 259.8 394.4 C259.6 396.3 260.3 396.9 261.5 395.9" fill="none" stroke="#222" stroke-width="0.65" stroke-linecap="round"/>
<circle cx="245" cy="405.4" r="2.45" fill="#000"/>
<circle cx="245" cy="415.4" r="2.5" fill="none" stroke="#f00000" stroke-width="1.15"/>
<rect x="242.4" y="422.7" width="5.2" height="5.2" fill="none" stroke="#1010e0" stroke-width="1.15"/>
<g style="filter:blur(0.28px)"><text x="169.62" y="227" font-size="7.8" text-anchor="middle" >0.2</text>
<text x="217.12" y="227" font-size="7.8" text-anchor="middle" >0.4</text>
<text x="264.62" y="227" font-size="7.8" text-anchor="middle" >0.6</text>
<text x="132.1" y="220" font-size="7.8" text-anchor="end" >0</text>
<text x="132.1" y="177.9" font-size="7.8" text-anchor="end" >100</text>
<text x="132.1" y="135.8" font-size="7.8" text-anchor="end" >200</text>
<text x="205.6" y="233.8" font-size="8.15" text-anchor="middle" ><tspan font-style="italic">B</tspan> (Tesla)</text>
<text x="136.9" y="142.9" font-size="8.15" text-anchor="start" >(a)</text>
<text x="139.1" y="163.9" font-size="8.15" text-anchor="start" ><tspan font-style="italic">T</tspan> = 100 mK</text>
<g transform="translate(117,175.1) rotate(-90)"><text font-size="8.15" text-anchor="middle"><tspan font-style="italic">R</tspan><tspan font-style="italic" font-size="6" dy="2.9">xx</tspan><tspan dy="-2.9"> (Ω)</tspan></text></g>
<text x="134" y="336.8" font-size="7.8" text-anchor="middle" >0</text>
<text x="162.5" y="336.8" font-size="7.8" text-anchor="middle" >1</text>
<text x="191" y="336.8" font-size="7.8" text-anchor="middle" >2</text>
<text x="219.5" y="336.8" font-size="7.8" text-anchor="middle" >3</text>
<text x="248" y="336.8" font-size="7.8" text-anchor="middle" >4</text>
<text x="276.5" y="336.8" font-size="7.8" text-anchor="middle" >5</text>
<text x="132.2" y="329.6" font-size="7.8" text-anchor="end" >0</text>
<text x="132.2" y="297.8" font-size="7.8" text-anchor="end" >1</text>
<text x="132.2" y="266" font-size="7.8" text-anchor="end" >2</text>
<text x="205.4" y="343.2" font-size="8.15" text-anchor="middle" ><tspan font-style="italic">B</tspan> (Tesla)</text>
<text x="138.2" y="252.4" font-size="8.15" text-anchor="start" >(b)</text>
<text x="139.6" y="274" font-size="8.15" text-anchor="start" ><tspan font-style="italic">T</tspan> = 700 mK</text>
<g transform="translate(121.4,284.3) rotate(-90)"><text font-size="8.15" text-anchor="middle"><tspan font-style="italic">R</tspan><tspan font-style="italic" font-size="6" dy="2.4">xy</tspan><tspan dy="-2.4"> (h/e</tspan><tspan font-size="6" dy="-3.9">2</tspan><tspan dy="3.9">)</tspan></text></g>
<text x="165.58" y="445.7" font-size="7.8" text-anchor="middle" >-0.4</text>
<text x="206.3" y="445.7" font-size="7.8" text-anchor="middle" >0</text>
<text x="247.02" y="445.7" font-size="7.8" text-anchor="middle" >0.4</text>
<text x="133.9" y="434.59" font-size="7.8" text-anchor="end" >-0.8</text>
<text x="133.9" y="415.87" font-size="7.8" text-anchor="end" >-0.4</text>
<text x="133.9" y="397.15" font-size="7.8" text-anchor="end" >0</text>
<text x="133.9" y="378.43" font-size="7.8" text-anchor="end" >0.4</text>
<text x="133.9" y="359.71" font-size="7.8" text-anchor="end" >0.8</text>
<text x="139" y="362" font-size="8.15" text-anchor="start" >(c)</text>
<text x="251.6" y="396.8" font-size="8.15" text-anchor="start" ><tspan font-style="italic">d</tspan>/</text>
<text x="256.3" y="408.2" font-size="7.7" text-anchor="start" >1.49</text>
<text x="256.3" y="418.2" font-size="7.7" text-anchor="start" >1.68</text>
<text x="256.3" y="428" font-size="7.7" text-anchor="start" >1.89</text>
<text x="197" y="455" font-size="8" text-anchor="start"><tspan font-family="Liberation Serif, serif" font-size="8.5" letter-spacing="0.35">Δν</tspan><tspan font-style="italic" font-size="6.4" dy="2.5">low</tspan></text>
<g transform="translate(116.9,404.4) rotate(-90)"><text font-size="8" text-anchor="start"><tspan font-family="Liberation Serif, serif" font-size="8.5" letter-spacing="0.35">Δν</tspan><tspan font-style="italic" font-size="6.3" dy="2.7">high</tspan></text></g></g>
</svg>
</body></html>
